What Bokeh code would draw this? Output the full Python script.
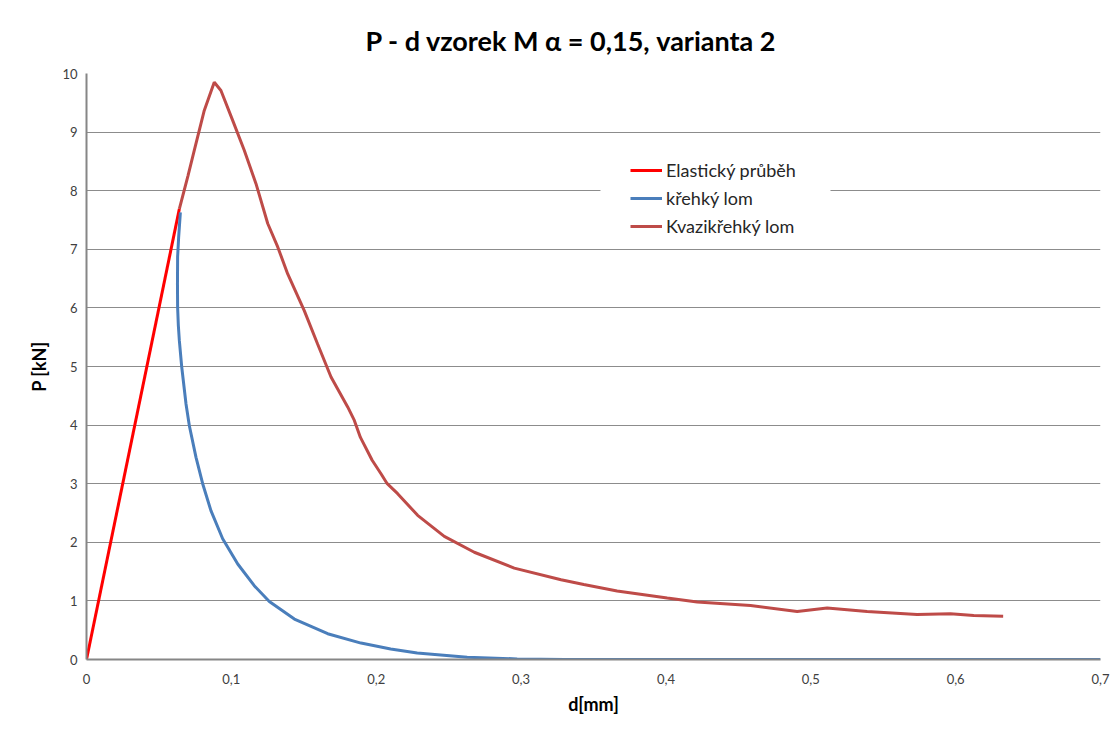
from bokeh.plotting import figure
from bokeh.models import Range1d, FixedTicker, Legend, LegendItem, BoxAnnotation
from bokeh.embed import file_html
from bokeh.resources import INLINE

# ---- data ----
elastic_d = [0.0, 0.0641]
elastic_p = [0.0, 7.69]

brittle_d = [0.0648, 0.0636, 0.0629, 0.0628, 0.0629, 0.0634, 0.0641, 0.0657, 0.0687,
             0.0710, 0.0756, 0.0802, 0.0859, 0.0940, 0.1044, 0.1158, 0.1262, 0.1435,
             0.1665, 0.1895, 0.2100, 0.2283, 0.2628, 0.2973, 0.3300, 0.4000, 0.5000,
             0.6000, 0.7000]
brittle_p = [7.63, 7.20, 6.87, 6.40, 6.01, 5.70, 5.44, 5.00, 4.36,
             3.99, 3.45, 3.00, 2.54, 2.06, 1.63, 1.26, 0.99, 0.69,
             0.44, 0.28, 0.18, 0.11, 0.04, 0.01, 0.0, 0.0, 0.0,
             0.0, 0.0]

quasi_d = [0.0641, 0.0700, 0.0744, 0.0813, 0.0882, 0.0928, 0.1009, 0.1089, 0.1170,
           0.1251, 0.1320, 0.1389, 0.1504, 0.1596, 0.1688, 0.1803, 0.1849, 0.1891,
           0.1972, 0.2033, 0.2076, 0.2148, 0.2286, 0.2470, 0.2677, 0.2953, 0.3276,
           0.3433, 0.3663, 0.4009, 0.4216, 0.4584, 0.4906, 0.5113, 0.5389, 0.5734,
           0.5964, 0.6125, 0.6328]
quasi_p = [7.69, 8.25, 8.69, 9.37, 9.85, 9.71, 9.20, 8.69, 8.12,
           7.44, 7.04, 6.58, 5.95, 5.38, 4.82, 4.31, 4.08, 3.79,
           3.40, 3.17, 3.00, 2.83, 2.46, 2.10, 1.83, 1.56, 1.36,
           1.28, 1.17, 1.05, 0.98, 0.92, 0.82, 0.88, 0.82, 0.77,
           0.78, 0.75, 0.74]

x_ticks = [0, 0.1, 0.2, 0.3, 0.4, 0.5, 0.6, 0.7]
x_tick_labels = ["0", "0,1", "0,2", "0,3", "0,4", "0,5", "0,6", "0,7"]
y_ticks = list(range(0, 11))

title_text = "P - d vzorek M α = 0,15, varianta 2"
FONT = "Lato"

p = figure(width=1120, height=729, output_backend="svg", toolbar_location=None,
           x_range=Range1d(0, 0.7), y_range=Range1d(0, 10),
           min_border_left=86, min_border_right=20, min_border_top=73, min_border_bottom=70)

p.title.text = title_text
p.title.align = "left"
p.title.text_font = FONT
p.title.text_font_size = "27px"
p.title.text_font_style = "bold"
p.title.text_color = "#000000"
p.title.offset = 279
p.title.standoff = 33

p.outline_line_color = None
p.background_fill_color = "white"
p.border_fill_color = "white"

p.xgrid.grid_line_color = None
p.ygrid.grid_line_color = "#8c8c8c"
p.ygrid.grid_line_width = 1
p.ygrid.ticker = FixedTicker(ticks=y_ticks)

p.xaxis.ticker = FixedTicker(ticks=x_ticks)
p.xaxis.major_label_overrides = {t: l for t, l in zip(x_ticks, x_tick_labels)}
p.yaxis.ticker = FixedTicker(ticks=y_ticks)

for ax in (p.xaxis[0], p.yaxis[0]):
    ax.axis_line_color = "#868686"
    ax.axis_line_width = 2
    ax.major_tick_line_color = None
    ax.minor_tick_line_color = None
    ax.major_label_text_font = FONT
    ax.major_label_text_font_size = "13px"
    ax.major_label_text_color = "#404040"
    ax.axis_label_text_font = FONT
    ax.axis_label_text_font_size = "18px"
    ax.axis_label_text_font_style = "bold"
    ax.axis_label_text_color = "#000000"

p.xaxis.axis_label = "d[mm]"
p.yaxis.axis_label = "P [kN]"
p.xaxis.major_label_standoff = 8
p.yaxis.major_label_standoff = 3
p.xaxis.axis_label_standoff = 6
p.yaxis.axis_label_standoff = 9

r_el = p.line(elastic_d, elastic_p, line_color="#ff0000", line_width=3)
r_br = p.line(brittle_d, brittle_p, line_color="#4a7ebb", line_width=3)
r_qu = p.line(quasi_d, quasi_p, line_color="#be4b48", line_width=3)

# white area behind legend (hides the gridline like the original)
p.add_layout(BoxAnnotation(left=0.3548, right=0.5136, bottom=7.25, top=8.6,
                           fill_color="white", fill_alpha=1.0, line_color=None))

legend = Legend(items=[
    LegendItem(label="Elastický průběh", renderers=[r_el]),
    LegendItem(label="křehký lom", renderers=[r_br]),
    LegendItem(label="Kvazikřehký lom", renderers=[r_qu]),
], location=(544, 422))
legend.border_line_color = None
legend.background_fill_color = "white"
legend.background_fill_alpha = 1.0
legend.label_text_font = FONT
legend.label_text_font_size = "18px"
legend.label_text_color = "#262626"
legend.glyph_width = 32
legend.glyph_height = 20
legend.label_height = 20
legend.spacing = 6
legend.padding = 8
legend.margin = 0
legend.label_standoff = 4
legend.label_text_baseline = "middle"
p.add_layout(legend, "center")

open("out.html", "w").write(file_html(p, INLINE))
